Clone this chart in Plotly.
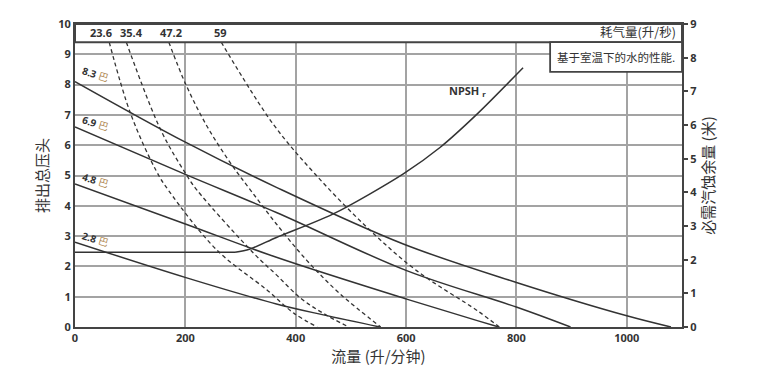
import plotly.graph_objects as go

# ---- data ----
# pressure curves: flow (L/min) vs discharge head (left axis)
p83_x = [0, 200, 365, 595, 800, 1000, 1080]
p83_y = [8.1, 6.1, 4.61, 2.74, 1.47, 0.37, 0]
p69_x = [0, 201, 365, 601, 801, 898]
p69_y = [6.6, 5.03, 3.78, 1.86, 0.65, 0]
p48_x = [0, 200, 365, 601, 729, 768]
p48_y = [4.72, 3.4, 2.3, 0.92, 0.21, 0]
p28_x = [0, 201, 365, 450, 553]
p28_y = [2.8, 1.63, 0.76, 0.4, 0]

# air consumption curves (dashed)
a236_x = [62, 101, 147, 169, 257, 348, 397, 439]
a236_y = [9.4, 7.03, 5.16, 4.52, 2.54, 1.22, 0.45, 0]
a354_x = [93, 156, 201, 221, 324, 365, 409, 450, 496]
a354_y = [9.4, 6.48, 5.05, 4.52, 2.43, 1.72, 0.95, 0.45, 0]
a472_x = [170, 201, 240, 286, 318, 365, 420, 480, 554]
a472_y = [9.4, 8.0, 6.6, 5.3, 4.52, 3.4, 2.2, 1.1, 0]
a59_x = [265, 359, 435, 529, 619, 729, 769]
a59_y = [9.4, 6.7, 5.05, 3.29, 1.86, 0.54, 0]

# NPSHr (right axis, metres)
npsh_x = [0, 290, 316, 365, 468, 595, 662, 729, 812]
npsh_y = [2.22, 2.22, 2.31, 2.66, 3.36, 4.55, 5.34, 6.33, 7.7]

pressure_labels = ["8.3", "6.9", "4.8", "2.8"]
pressure_label_y = [8.35, 6.73, 4.85, 2.92]
air_labels = ["23.6", "35.4", "47.2", "59"]
air_label_x = [47, 103, 174, 263]

x_ticks = [0, 200, 400, 600, 800, 1000]
left_ticks = list(range(0, 11))
right_ticks = list(range(0, 10))

DARK = "#333333"
GRID = "#a3a3a3"
TICKFONT = dict(family="Noto Sans, Open Sans, sans-serif", size=11, color=DARK, weight="bold")
CJK = "Noto Sans CJK SC, Noto Sans, sans-serif"

fig = go.Figure()

for xs, ys in [(p83_x, p83_y), (p69_x, p69_y), (p48_x, p48_y), (p28_x, p28_y)]:
    fig.add_trace(go.Scatter(x=xs, y=ys, mode="lines",
                             line=dict(color=DARK, width=1.5, shape="spline", smoothing=1),
                             hoverinfo="skip", showlegend=False))

for xs, ys in [(a236_x, a236_y), (a354_x, a354_y), (a472_x, a472_y), (a59_x, a59_y)]:
    fig.add_trace(go.Scatter(x=xs, y=ys, mode="lines",
                             line=dict(color=DARK, width=1.3, dash="4px,3px", shape="spline", smoothing=1),
                             hoverinfo="skip", showlegend=False))

# NPSHr: flat part, then rising curve
fig.add_trace(go.Scatter(x=npsh_x[:2], y=npsh_y[:2], mode="lines", yaxis="y2",
                         line=dict(color=DARK, width=1.5),
                         hoverinfo="skip", showlegend=False))
fig.add_trace(go.Scatter(x=npsh_x[1:], y=npsh_y[1:], mode="lines", yaxis="y2",
                         line=dict(color=DARK, width=1.5, shape="spline", smoothing=0.8),
                         hoverinfo="skip", showlegend=False))

shapes = [
    # top band for air consumption
    dict(type="rect", xref="x", yref="y", x0=0, x1=1100, y0=9.4, y1=10,
         fillcolor="white", line=dict(color="#444444", width=2), layer="above"),
    # note box
    dict(type="rect", xref="x", yref="y", x0=861, x1=1100, y0=8.42, y1=9.4,
         fillcolor="white", line=dict(color="#444444", width=1.8), layer="above"),
]

annotations = []
for lab, ly in zip(pressure_labels, pressure_label_y):
    annotations.append(dict(x=5, y=ly, xref="x", yref="y", xanchor="left", yanchor="middle",
                            text=f"<b>{lab}</b> <span style='color:#b08850'>巴</span>",
                            showarrow=False, textangle=17,
                            font=dict(family="Noto Sans, " + CJK, size=10, color=DARK)))
for lab, lx in zip(air_labels, air_label_x):
    annotations.append(dict(x=lx, y=9.72, xref="x", yref="y", text=f"<b>{lab}</b>",
                            showarrow=False, font=dict(family="Noto Sans, sans-serif", size=11, color=DARK)))
annotations.append(dict(x=1092, y=9.74, xref="x", yref="y", xanchor="right", text="耗气量(升/秒)",
                        showarrow=False, font=dict(family=CJK, size=12.5, color=DARK)))
annotations.append(dict(x=980, y=8.91, xref="x", yref="y", text="基于室温下的水的性能.",
                        showarrow=False, font=dict(family=CJK, size=11.5, color=DARK)))
annotations.append(dict(x=712, y=7.8, xref="x", yref="y", xanchor="center",
                        text="<b>NPSH</b> <sub><b>r</b></sub>",
                        showarrow=False, font=dict(family="Noto Sans, sans-serif", size=11, color=DARK)))

fig.update_layout(
    width=784, height=392,
    margin=dict(l=75, r=102, t=24, b=65),
    paper_bgcolor="white", plot_bgcolor="white",
    showlegend=False,
    shapes=shapes, annotations=annotations,
    xaxis=dict(range=[0, 1100], tickvals=x_ticks, ticktext=[str(v) for v in x_ticks],
               showgrid=True, gridcolor=GRID, gridwidth=1.5,
               showline=True, linecolor="#444444", linewidth=2, mirror=True,
               ticks="", tickfont=TICKFONT, zeroline=False,
               title=dict(text="流量 (升/分钟)", font=dict(family=CJK, size=15, color=DARK), standoff=6)),
    yaxis=dict(range=[0, 10], tickvals=left_ticks, ticktext=[str(v) for v in left_ticks],
               showgrid=True, gridcolor=GRID, gridwidth=1.5,
               showline=True, linecolor="#444444", linewidth=2, mirror=True,
               ticks="", tickfont=TICKFONT, zeroline=False,
               title=dict(text="排出总压头", font=dict(family=CJK, size=15, color=DARK), standoff=6)),
    yaxis2=dict(range=[0, 9], tickvals=right_ticks, ticktext=[str(v) for v in right_ticks],
                overlaying="y", side="right", showgrid=False, zeroline=False,
                showline=True, linecolor="#444444", linewidth=2,
                ticks="outside", ticklen=4, tickcolor="#444444", tickwidth=1.5,
                tickfont=TICKFONT,
                title=dict(text="必需汽蚀余量 (米)", font=dict(family=CJK, size=15, color=DARK), standoff=6)),
)

fig.write_html("out.html", config={"displayModeBar": False},
               post_script="document.body.style.margin='0';")
